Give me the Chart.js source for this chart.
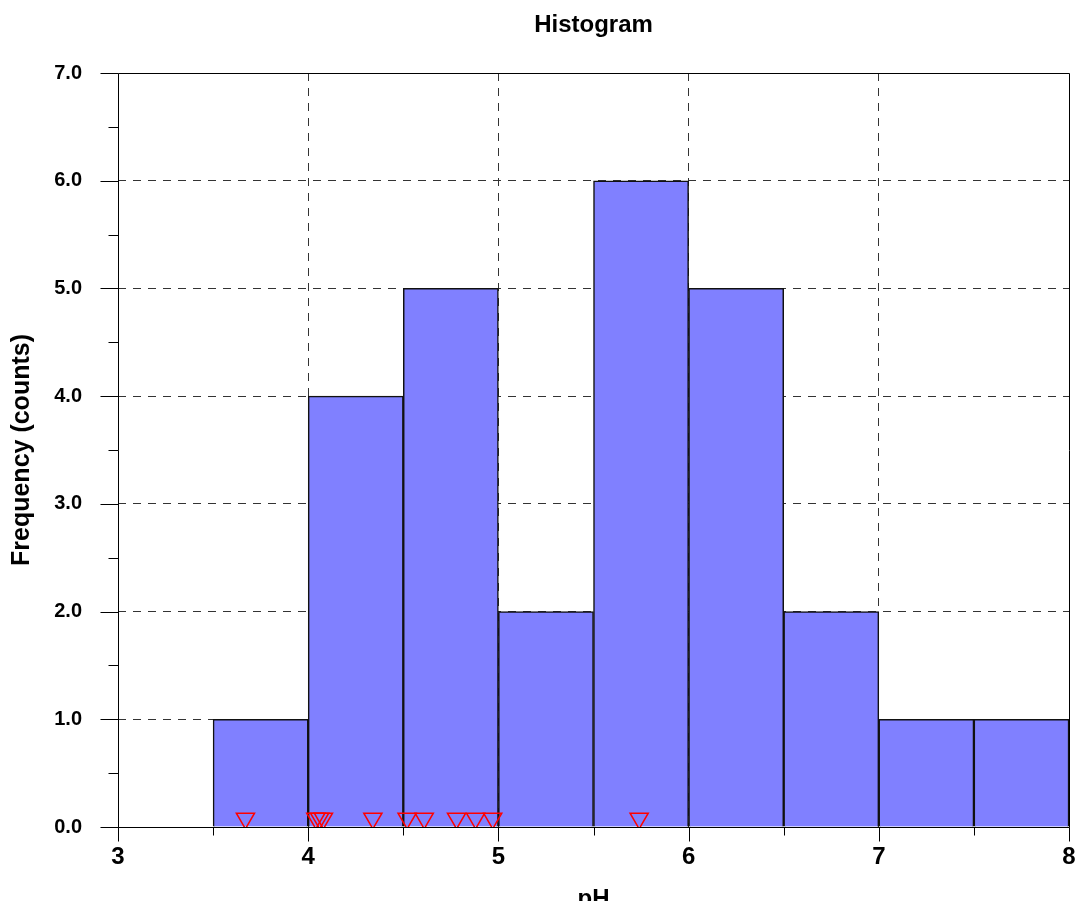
<!DOCTYPE html>
<html>
<head>
<meta charset="utf-8">
<script src="https://cdn.jsdelivr.net/npm/chart.js@4/dist/chart.umd.min.js"></script>
<style>
  html, body { margin: 0; padding: 0; background: #fff; overflow: hidden; }
  canvas { display: block; }
</style>
</head>
<body>
<canvas id="histo" width="1077" height="901"></canvas>
<script>
// Histogram data (bin width 0.5 pH)
const binCenters = [3.75, 4.25, 4.75, 5.25, 5.75, 6.25, 6.75, 7.25, 7.75];
const counts = [1, 4, 5, 2, 6, 5, 2, 1, 1];

// red markers along the bottom
const markerPH = [3.67, 4.04, 4.06, 4.08, 4.34, 4.52, 4.61, 4.78, 4.88, 4.97, 5.74];
const markerLevel = 0.08;

const FONT = '"Liberation Sans", Arial, sans-serif';

// frame box + long/short tick marks
const framePlugin = {
    id: 'frame',
    afterDatasetsDraw(chart) {
        const ctx = chart.ctx;
        const a = chart.chartArea;
        const xs = chart.scales.x, ys = chart.scales.y;
        const px = v => Math.round(v) + 0.5;
        ctx.save();
        ctx.strokeStyle = '#000';
        ctx.lineWidth = 1;
        ctx.setLineDash([]);
        ctx.beginPath();
        ctx.rect(px(a.left), px(a.top), Math.round(a.right) - Math.round(a.left), Math.round(a.bottom) - Math.round(a.top));
        ys.ticks.forEach(t => {
            const yy = px(ys.getPixelForValue(t.value));
            const len = Number.isInteger(t.value) ? 18 : 10;
            ctx.moveTo(px(a.left) - len, yy);
            ctx.lineTo(px(a.left), yy);
        });
        xs.ticks.forEach(t => {
            const xx = px(xs.getPixelForValue(t.value));
            const len = Number.isInteger(t.value) ? 14 : 8;
            ctx.moveTo(xx, px(a.bottom));
            ctx.lineTo(xx, px(a.bottom) + len);
        });
        ctx.stroke();
        ctx.restore();
    }
};

const gridColor = (lo, hi) => c => {
    const v = c.tick ? c.tick.value : null;
    return (v !== null && Number.isInteger(v) && v > lo && v < hi) ? '#333' : 'rgba(0,0,0,0)';
};

const ctx = document.getElementById('histo').getContext('2d');
const grafico = new Chart(ctx, {
    type: 'bar',
    data: {
        datasets: [{
            type: 'scatter',
            data: markerPH.map(v => ({ x: v, y: markerLevel })),
            pointStyle: 'triangle',
            rotation: 180,
            radius: 10.5,
            borderColor: '#ff0000',
            backgroundColor: 'rgba(0,0,0,0)',
            borderWidth: 1.5,
            order: 0
        }, {
            type: 'bar',
            data: binCenters.map((c, i) => ({ x: c, y: counts[i] })),
            backgroundColor: '#8080ff',
            borderColor: '#111',
            borderWidth: 1.5,
            barPercentage: 1,
            categoryPercentage: 1,
            order: 1
        }]
    },
    options: {
        responsive: false,
        animation: false,
        devicePixelRatio: 1,
        layout: { autoPadding: false, padding: { left: 0, right: 8, top: 0, bottom: 0 } },
        plugins: {
            legend: { display: false },
            tooltip: { enabled: false },
            title: {
                display: true,
                fullSize: false,
                text: 'Histogram',
                color: '#000',
                font: { family: FONT, size: 24, weight: 'bold', lineHeight: 1.2 },
                padding: { top: 11, bottom: 33.2 }
            }
        },
        scales: {
            x: {
                type: 'linear',
                min: 3,
                max: 8,
                offset: false,
                afterFit: s => { s.height = 74; s.paddingLeft = 0; s.paddingRight = 0; },
                ticks: {
                    stepSize: 0.5,
                    autoSkip: false,
                    maxRotation: 0,
                    padding: 16,
                    color: '#000',
                    font: { family: FONT, size: 24, weight: 'bold' },
                    callback: v => Number.isInteger(v) ? String(v) : ''
                },
                grid: { offset: false, color: gridColor(3, 8), lineWidth: 1, drawTicks: false },
                border: { display: false, dash: [8, 7] },
                title: {
                    display: true,
                    text: 'pH',
                    color: '#000',
                    font: { family: FONT, size: 24, weight: 'bold', lineHeight: 1 },
                    padding: { top: 0, bottom: -10 }
                }
            },
            y: {
                min: 0,
                max: 7,
                afterFit: s => { s.width = 118; s.paddingTop = 0; s.paddingBottom = 0; },
                ticks: {
                    stepSize: 0.5,
                    autoSkip: false,
                    padding: 36,
                    color: '#000',
                    font: { family: FONT, size: 20, weight: 'bold' },
                    callback: v => Number.isInteger(v) ? v.toFixed(1) : ''
                },
                grid: { color: gridColor(0, 7), lineWidth: 1, drawTicks: false },
                border: { display: false, dash: [8, 7] },
                title: {
                    display: true,
                    text: 'Frequency (counts)',
                    color: '#000',
                    font: { family: FONT, size: 25, weight: 'bold', lineHeight: 1 },
                    padding: { top: 9.5, bottom: 0 }
                }
            }
        }
    },
    plugins: [framePlugin]
});
</script>
</body>
</html>
